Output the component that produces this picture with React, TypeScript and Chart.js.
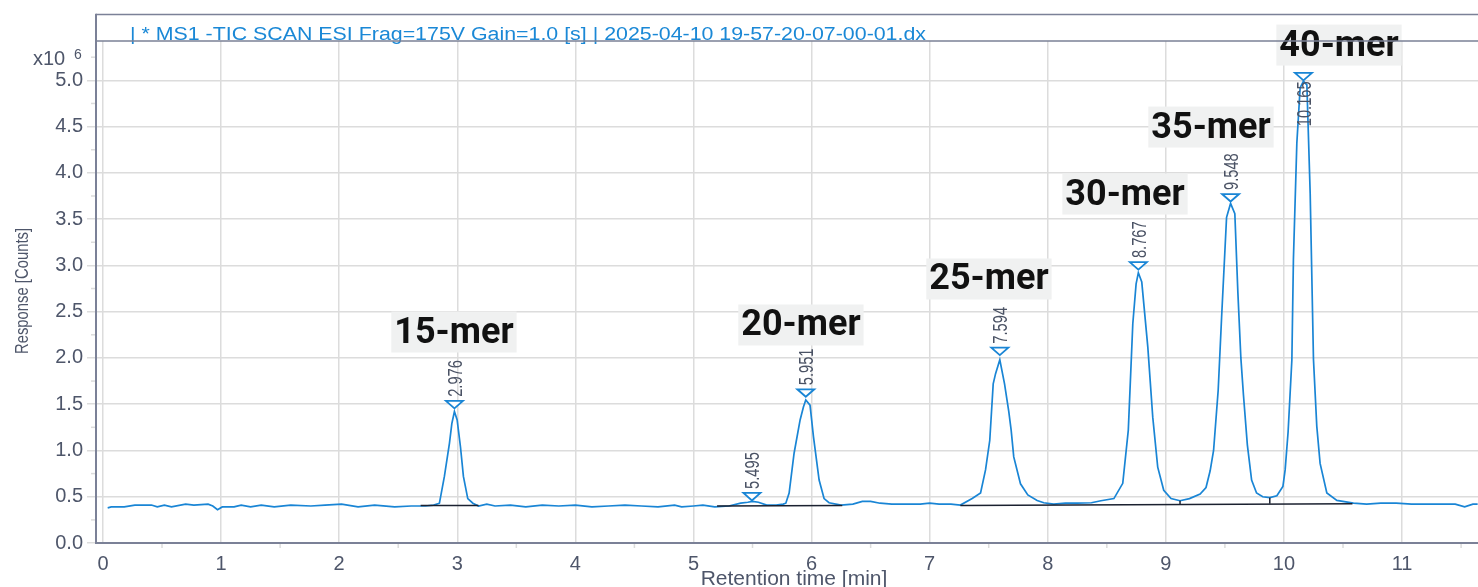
import React, { useEffect, useRef } from 'react';
import { Chart, registerables } from 'chart.js';

Chart.register(...registerables);

// ---- data ----
const retentionTime: number[] = [
  0.04, 0.07, 0.18, 0.27, 0.41, 0.46, 0.52, 0.58, 0.70, 0.77,
  0.89, 0.93, 0.97, 1.01, 1.11, 1.17, 1.25, 1.34, 1.45, 1.59,
  1.76, 1.88, 2.02, 2.16, 2.30, 2.47, 2.61, 2.73, 2.80,
  2.849, 2.891, 2.934, 2.954, 2.976, 2.999, 3.027, 3.052, 3.089, 3.132,
  3.18, 3.25, 3.32, 3.45, 3.58, 3.72, 3.86, 4.00, 4.14, 4.28,
  4.42, 4.56, 4.70, 4.84, 4.90, 5.00, 5.08, 5.18, 5.30, 5.40,
  5.46, 5.50, 5.55, 5.62, 5.70, 5.76,
  5.782, 5.81, 5.852, 5.903, 5.931, 5.951, 5.987, 6.016, 6.064, 6.106, 6.148,
  6.25, 6.35, 6.43, 6.50, 6.58, 6.68, 6.80, 6.92, 7.00, 7.08, 7.18, 7.26,
  7.36, 7.431, 7.473, 7.509, 7.538, 7.558, 7.594, 7.634, 7.67, 7.69, 7.712, 7.769, 7.831, 7.91, 7.966,
  8.05, 8.15, 8.25, 8.37, 8.45, 8.56, 8.635, 8.682, 8.72, 8.748,
  8.767, 8.796, 8.847, 8.889, 8.931, 8.982, 9.044, 9.12, 9.2, 9.29,
  9.34, 9.375, 9.404, 9.443, 9.472, 9.514, 9.548, 9.584, 9.61, 9.635,
  9.657, 9.69, 9.726, 9.768, 9.82, 9.88, 9.94, 9.991,
  10.01, 10.035, 10.067, 10.08, 10.109, 10.137, 10.165, 10.194, 10.222, 10.25,
  10.278, 10.306, 10.363, 10.448, 10.588,
  10.70, 10.82, 10.95, 11.08, 11.20, 11.32, 11.45, 11.53, 11.60, 11.64,
];

const response: number[] = [
  0.38, 0.39, 0.39, 0.41, 0.41, 0.39, 0.41, 0.39, 0.42, 0.41,
  0.42, 0.40, 0.36, 0.39, 0.39, 0.41, 0.39, 0.41, 0.39, 0.41,
  0.40, 0.41, 0.42, 0.39, 0.41, 0.39, 0.40, 0.40, 0.41,
  0.43, 0.72, 1.08, 1.29, 1.42, 1.33, 1.04, 0.72, 0.48, 0.43,
  0.40, 0.42, 0.40, 0.41, 0.39, 0.41, 0.40, 0.41, 0.39, 0.40,
  0.41, 0.40, 0.39, 0.41, 0.39, 0.40, 0.41, 0.39, 0.40, 0.43,
  0.44, 0.45, 0.44, 0.41, 0.41, 0.42,
  0.43, 0.54, 0.97, 1.33, 1.47, 1.545, 1.49, 1.15, 0.68, 0.48, 0.435,
  0.41, 0.42, 0.45, 0.45, 0.43, 0.42, 0.42, 0.42, 0.43, 0.42, 0.42, 0.41,
  0.48, 0.54, 0.79, 1.11, 1.72, 1.83, 1.98, 1.72, 1.42, 1.22, 0.93, 0.64, 0.52, 0.46, 0.435,
  0.42, 0.43, 0.43, 0.435, 0.457, 0.48, 0.645, 1.22, 2.37, 2.80,
  2.92, 2.82, 2.12, 1.36, 0.82, 0.57, 0.48, 0.457, 0.48, 0.53,
  0.60, 0.78, 1.0, 1.65, 2.44, 3.52, 3.67, 3.56, 2.7, 2.0,
  1.6, 1.06, 0.68, 0.54, 0.50, 0.49, 0.51, 0.61,
  0.79, 1.2, 1.98, 3.06, 4.32, 4.92, 4.99, 4.95, 3.78, 1.98,
  1.26, 0.86, 0.54, 0.46, 0.43,
  0.42, 0.43, 0.43, 0.42, 0.42, 0.42, 0.42, 0.39, 0.42, 0.42,
];

const peakTimes = [2.976, 5.495, 5.951, 7.594, 8.767, 9.548, 10.165];
const peakTips = [1.455, 0.46, 1.58, 2.03, 2.955, 3.69, 5.0];
const peakLabels = ['2.976', '5.495', '5.951', '7.594', '8.767', '9.548', '10.165'];

const oligoNames = ['15-mer', '20-mer', '25-mer', '30-mer', '35-mer', '40-mer'];
const oligoTimes = [2.972, 5.91, 7.502, 8.654, 9.382, 10.466];
const oligoLevels = [2.28, 2.356, 2.853, 3.771, 4.495, 5.381];

const integStart = [2.69, 5.2, 7.26];
const integEnd = [3.18, 6.26, 10.58];
const integStartLevel = [0.405, 0.4, 0.405];
const integEndLevel = [0.405, 0.405, 0.425];

const dropTimes = [9.12, 9.88];
const dropBase = [0.42, 0.423];
const dropTop = [0.457, 0.49];

const xTickValues = [0, 1, 2, 3, 4, 5, 6, 7, 8, 9, 10, 11];
const xMinorTicks = [0.5, 1.5, 2.5, 3.5, 4.5, 5.5, 6.5, 7.5, 8.5, 9.5, 10.5, 11.5];
const yTickValues = [0, 0.5, 1, 1.5, 2, 2.5, 3, 3.5, 4, 4.5, 5];
const yMinorTicks = [0.25, 0.75, 1.25, 1.75, 2.25, 2.75, 3.25, 3.75, 4.25, 4.75, 5.25];

const chartTitle = '| * MS1 -TIC SCAN ESI Frag=175V Gain=1.0 [s] | 2025-04-10 19-57-20-07-00-01.dx';
const xTitle = 'Retention time [min]';
const yTitle = 'Response [Counts]';
const yMultiplier = 'x10';
const yExponent = '6';

// ---- styles ----
const BLUE = '#1985d5';
const TITLE_BLUE = '#1a88d6';
const AXIS = '#7b8197';
const GRID = '#dcdcdc';
const TEXT = '#4e566a';
const LABEL = '#4a5264';
const FONT = '"Liberation Sans", Arial, sans-serif';

const decorations = {
  id: 'decorations',
  beforeDatasetsDraw(chart: any) {
    const { ctx, scales } = chart;
    const x = scales.x, y = scales.y;
    ctx.save();
    ctx.font = 'bold 36px Roboto';
    oligoNames.forEach((name, i) => {
      const cx = x.getPixelForValue(oligoTimes[i]);
      const cy = y.getPixelForValue(oligoLevels[i]);
      const w = ctx.measureText(name).width + 6;
      ctx.fillStyle = '#f0f1f1';
      ctx.fillRect(cx - w / 2, cy - 20.5, w, 41);
      ctx.fillStyle = '#111111';
      ctx.textAlign = 'center';
      ctx.textBaseline = 'alphabetic';
      ctx.fillText(name, cx, cy + 10.5);
    });
    ctx.restore();
  },
  afterDraw(chart: any) {
    const { ctx, chartArea: a, scales } = chart;
    const x = scales.x, y = scales.y;
    ctx.save();
    // minor ticks
    ctx.strokeStyle = GRID;
    ctx.lineWidth = 1.5;
    yMinorTicks.forEach((v) => {
      const py = y.getPixelForValue(v);
      ctx.beginPath();
      ctx.moveTo(a.left - 5, py);
      ctx.lineTo(a.left - 1, py);
      ctx.stroke();
    });
    xMinorTicks.forEach((v) => {
      const px = x.getPixelForValue(v);
      ctx.beginPath();
      ctx.moveTo(px, a.bottom + 1);
      ctx.lineTo(px, a.bottom + 5);
      ctx.stroke();
    });

    // peak markers + labels
    const sx = 0.7;
    peakTimes.forEach((t, i) => {
      const px = x.getPixelForValue(t);
      const py = y.getPixelForValue(peakTips[i]);
      ctx.beginPath();
      ctx.moveTo(px - 8.5, py - 7.5);
      ctx.lineTo(px + 8.5, py - 7.5);
      ctx.lineTo(px, py);
      ctx.closePath();
      ctx.fillStyle = '#ffffff';
      ctx.fill();
      ctx.strokeStyle = BLUE;
      ctx.lineWidth = 1.8;
      ctx.stroke();

      ctx.font = '21px ' + FONT;
      const len = ctx.measureText(peakLabels[i]).width * sx;
      let start = py - 7.5 - 4;
      if (start - len < a.top) {
        // not enough room above: place it beneath the marker, along the peak
        start = py + len + 1;
      }
      ctx.save();
      ctx.translate(px, start);
      ctx.rotate(-Math.PI / 2);
      ctx.scale(sx, 1);
      ctx.fillStyle = LABEL;
      ctx.textAlign = 'left';
      ctx.textBaseline = 'alphabetic';
      ctx.fillText(peakLabels[i], 0, 7.5);
      ctx.restore();
    });

    // title strip
    ctx.font = '18px ' + FONT;
    ctx.fillStyle = TITLE_BLUE;
    ctx.textAlign = 'left';
    ctx.textBaseline = 'alphabetic';
    const tw = ctx.measureText(chartTitle).width;
    ctx.save();
    ctx.translate(130, 40);
    ctx.scale(796 / tw, 1);
    ctx.fillText(chartTitle, 0, 0);
    ctx.restore();

    ctx.strokeStyle = AXIS;
    ctx.lineWidth = 1.6;
    ctx.beginPath();
    ctx.moveTo(a.left, 14.5);
    ctx.lineTo(a.right, 14.5);
    ctx.moveTo(a.left, a.top);
    ctx.lineTo(a.right, a.top);
    ctx.stroke();
    ctx.lineWidth = 2;
    ctx.beginPath();
    ctx.moveTo(a.left, 13.7);
    ctx.lineTo(a.left, a.top);
    ctx.stroke();

    // multiplier
    ctx.fillStyle = TEXT;
    ctx.font = '20px ' + FONT;
    ctx.fillText(yMultiplier, 33, 65);
    ctx.font = '14px ' + FONT;
    ctx.fillText(yExponent, 74, 59);

    // axis titles
    ctx.font = '21px ' + FONT;
    ctx.textAlign = 'center';
    ctx.fillText(xTitle, 794, 585);

    ctx.save();
    ctx.translate(23, 291);
    ctx.rotate(-Math.PI / 2);
    ctx.scale(0.78, 1);
    ctx.font = '19px ' + FONT;
    ctx.textAlign = 'center';
    ctx.textBaseline = 'middle';
    ctx.fillText(yTitle, 0, 0);
    ctx.restore();

    ctx.restore();
  },
};

export default function App() {
  const ref = useRef<HTMLCanvasElement>(null);

  useEffect(() => {
    const signal = retentionTime.map((t, i) => ({ x: t, y: response[i] }));
    const segs = integStart.map((s, i) => ({
      data: [
        { x: s, y: integStartLevel[i] },
        { x: integEnd[i], y: integEndLevel[i] },
      ],
      borderColor: '#1b2130',
      borderWidth: 1.5,
      pointRadius: 0,
      order: 1,
    }));
    const drops = dropTimes.map((t, i) => ({
      data: [
        { x: t, y: dropBase[i] },
        { x: t, y: dropTop[i] },
      ],
      borderColor: '#1b2130',
      borderWidth: 1.5,
      pointRadius: 0,
      order: 1,
    }));

    const chart = new Chart(ref.current as HTMLCanvasElement, {
      type: 'line',
      data: {
        datasets: [
          {
            data: signal,
            borderColor: BLUE,
            borderWidth: 1.7,
            pointRadius: 0,
            tension: 0,
            order: 2,
          },
          ...segs,
          ...drops,
        ] as any,
      },
      options: {
        responsive: false,
        animation: false,
        events: [],
        layout: { padding: { top: 41, left: 0, right: 0, bottom: 0 } },
        plugins: {
          legend: { display: false },
          tooltip: { enabled: false },
          title: { display: false },
        },
        scales: {
          x: {
            type: 'linear',
            min: -0.059,
            max: 11.643,
            afterBuildTicks: (s: any) => {
              s.ticks = xTickValues.map((v) => ({ value: v }));
            },
            afterFit: (s: any) => {
              s.height = 44;
            },
            grid: { color: GRID, lineWidth: 1.5, drawTicks: false },
            border: { color: AXIS, width: 2 },
            ticks: {
              color: TEXT,
              font: { family: FONT, size: 20 },
              padding: 9,
              maxRotation: 0,
              autoSkip: false,
              callback: (v: any) => String(v),
            },
          },
          y: {
            type: 'linear',
            min: 0,
            max: 5.425,
            afterBuildTicks: (s: any) => {
              s.ticks = yTickValues.map((v) => ({ value: v }));
            },
            afterFit: (s: any) => {
              s.width = 96;
            },
            grid: { color: GRID, lineWidth: 1.5, tickLength: 9, tickColor: GRID },
            border: { color: AXIS, width: 2 },
            ticks: {
              color: TEXT,
              font: { family: FONT, size: 20 },
              padding: 4,
              autoSkip: false,
              callback: (v: any) => Number(v).toFixed(1),
            },
          },
        },
      } as any,
      plugins: [decorations],
    });
    return () => chart.destroy();
  }, []);

  return (
    <div style={{ position: 'fixed', left: 0, top: 0, width: 1478, height: 587, background: '#ffffff' }}>
      <canvas ref={ref} width={1478} height={587} style={{ display: 'block', width: 1478, height: 587 }} />
    </div>
  );
}
